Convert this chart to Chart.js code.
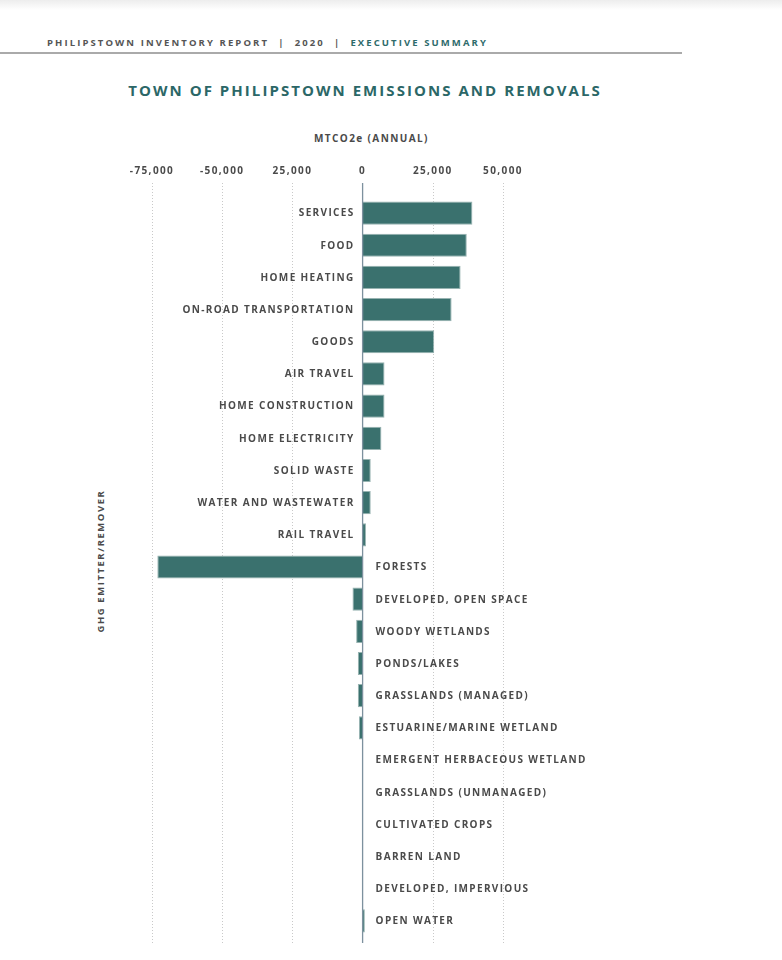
<!DOCTYPE html>
<html>
<head>
<meta charset="utf-8">
<script src="https://cdn.jsdelivr.net/npm/chart.js@4/dist/chart.umd.min.js"></script>
<style>
  body { margin: 0; background: #fff; font-family: "Open Sans", sans-serif; }
  #page { position: relative; width: 782px; height: 960px; overflow: hidden; }
  #shade { position: absolute; left: 0; top: 0; width: 782px; height: 10px;
           background: linear-gradient(#ededed, #fff); }
  #header { position: absolute; left: 47px; top: 36px; font-size: 9.5px; font-weight: 700;
            letter-spacing: 2.1px; color: #555; white-space: nowrap; }
  #header span { color: #2e6b6b; }
  #rule { position: absolute; left: 0; top: 52px; width: 682px; height: 2px; background: #aaa; }
  #title { position: absolute; left: 0; width: 730px; top: 80px; text-align: center;
           font-size: 15px; font-weight: 700; letter-spacing: 2.05px; color: #2b6767; }
  #xtitle { position: absolute; left: 314px; width: 100px; top: 131px; text-align: center;
            font-size: 10px; font-weight: 700; letter-spacing: 1.4px; color: #4a4a4a; white-space: nowrap; }
  #ytitle { position: absolute; left: 100px; top: 561px; transform: translate(-50%, -50%) rotate(-90deg);
            font-size: 9.5px; font-weight: 700; letter-spacing: 1.55px; color: #4a4a4a; white-space: nowrap; }
  canvas { position: absolute; left: 0; top: 0; }
</style>
</head>
<body>
<div id="page">
  <div id="shade"></div>
  <div id="header">PHILIPSTOWN INVENTORY REPORT &nbsp;|&nbsp; 2020 &nbsp;|&nbsp; <span>EXECUTIVE SUMMARY</span></div>
  <div id="rule"></div>
  <div id="title">TOWN OF PHILIPSTOWN EMISSIONS AND REMOVALS</div>
  <div id="xtitle">MTCO2e (ANNUAL)</div>
  <div id="ytitle">GHG EMITTER/REMOVER</div>
  <canvas id="chart" width="782" height="960"></canvas>
</div>
<script>
// emitters (labels left of zero) and removers (labels right of zero)
var emitterLabels = ["SERVICES", "FOOD", "HOME HEATING", "ON-ROAD TRANSPORTATION", "GOODS",
    "AIR TRAVEL", "HOME CONSTRUCTION", "HOME ELECTRICITY", "SOLID WASTE",
    "WATER AND WASTEWATER", "RAIL TRAVEL"];
var emitterValues = [39100, 37100, 34900, 31700, 25500, 7800, 7800, 6700, 2900, 2900, 1200];

var removerLabels = ["FORESTS", "DEVELOPED, OPEN SPACE", "WOODY WETLANDS", "PONDS/LAKES",
    "GRASSLANDS (MANAGED)", "ESTUARINE/MARINE WETLAND", "EMERGENT HERBACEOUS WETLAND",
    "GRASSLANDS (UNMANAGED)", "CULTIVATED CROPS", "BARREN LAND", "DEVELOPED, IMPERVIOUS",
    "OPEN WATER"];
var removerValues = [-73100, -3600, -2300, -1700, -1700, -1300, -100, 0, 0, 0, 0, 800];

var tickValues = [-75000, -50000, -25000, 0, 25000, 50000];
var tickLabels = ["-75,000", "-50,000", "25,000", "0", "25,000", "50,000"];

var labels = emitterLabels.concat(removerLabels);
var values = emitterValues.concat(removerValues);

var textGray = "#4a4a4a";

// dotted grid lines plus solid zero line, a little longer than the plot area
var gridPlugin = {
    id: "gridLines",
    beforeDatasetsDraw: function (chart) {
        var ctx = chart.ctx, x = chart.scales.x, area = chart.chartArea;
        ctx.save();
        ctx.strokeStyle = "#c9c9c9";
        ctx.lineWidth = 1;
        ctx.setLineDash([1, 2]);
        tickValues.forEach(function (v) {
            if (v === 0) return;
            var px = Math.round(x.getPixelForValue(v)) + 0.5;
            ctx.beginPath();
            ctx.moveTo(px, area.top - 14);
            ctx.lineTo(px, area.bottom + 6);
            ctx.stroke();
        });
        ctx.restore();
    },
    afterDatasetsDraw: function (chart) {
        var ctx = chart.ctx, x = chart.scales.x, area = chart.chartArea;
        var px = x.getPixelForValue(0);
        ctx.save();
        ctx.strokeStyle = "#7d919e";
        ctx.lineWidth = 1.3;
        ctx.beginPath();
        ctx.moveTo(px, area.top - 14);
        ctx.lineTo(px, area.bottom + 6);
        ctx.stroke();
        ctx.restore();
    }
};

// category names sit beside the zero line
var labelPlugin = {
    id: "zeroLabels",
    afterDraw: function (chart) {
        var ctx = chart.ctx, x = chart.scales.x, y = chart.scales.y;
        var x0 = x.getPixelForValue(0);
        ctx.save();
        ctx.font = "bold 10px 'Open Sans'";
        ctx.letterSpacing = "1.35px";
        ctx.fillStyle = textGray;
        ctx.textBaseline = "middle";
        labels.forEach(function (name, i) {
            var py = y.getPixelForValue(i) + 0.5;
            if (i < emitterLabels.length) {
                ctx.textAlign = "right";
                ctx.fillText(name, x0 - 8, py);
            } else {
                ctx.textAlign = "left";
                ctx.fillText(name, x0 + 13, py);
            }
        });
        ctx.restore();
    }
};

var spacingPlugin = {
    id: "tickSpacing",
    beforeDraw: function (chart) { chart.ctx.letterSpacing = "1.4px"; }
};

var ctx = document.getElementById("chart").getContext("2d");
var chart = new Chart(ctx, {
    type: "bar",
    data: {
        labels: labels,
        datasets: [{
            data: values,
            backgroundColor: "#3a716e",
            borderColor: "#97b3b1",
            borderWidth: 1,
            borderSkipped: "start",
            barPercentage: 0.72,
            categoryPercentage: 1
        }]
    },
    options: {
        indexAxis: "y",
        responsive: false,
        animation: false,
        layout: { padding: { left: 0, top: 0, right: 279, bottom: 23 } },
        plugins: { legend: { display: false }, tooltip: { enabled: false } },
        scales: {
            x: {
                position: "top",
                min: -75000,
                max: 50000,
                afterBuildTicks: function (scale) {
                    scale.ticks = tickValues.map(function (v) { return { value: v }; });
                },
                afterFit: function (scale) { scale.height = 197; },
                grid: { display: false, drawTicks: false },
                border: { display: false },
                ticks: {
                    padding: 20,
                    color: textGray,
                    font: { family: "Open Sans", size: 10, weight: "bold" },
                    callback: function (value, index) { return tickLabels[index]; }
                }
            },
            y: {
                afterFit: function (scale) { scale.width = 152; },
                grid: { display: false },
                border: { display: false },
                ticks: { display: false }
            }
        }
    },
    plugins: [spacingPlugin, gridPlugin, labelPlugin]
});
</script>
</body>
</html>
